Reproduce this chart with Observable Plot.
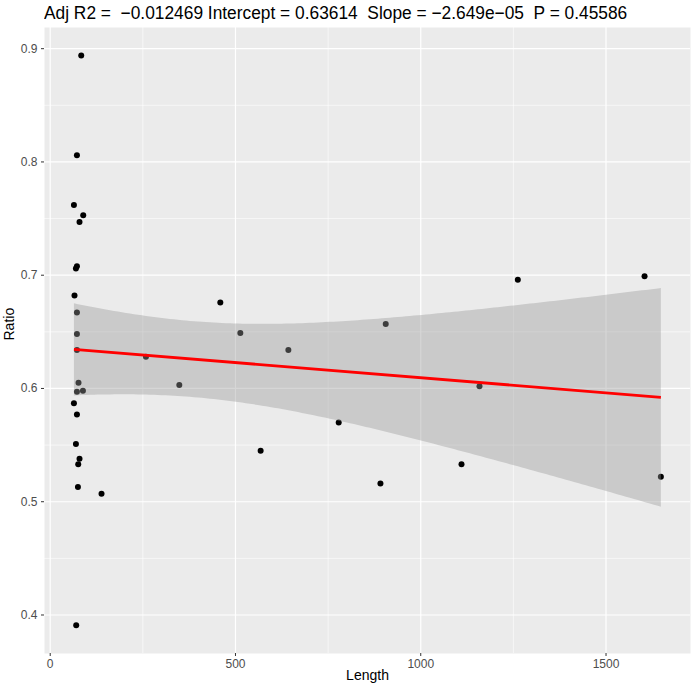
<!DOCTYPE html>
<html>
<head>
<meta charset="utf-8">
<script src="https://cdn.jsdelivr.net/npm/d3@7"></script>
<script src="https://cdn.jsdelivr.net/npm/@observablehq/plot@0.6"></script>
<style>
  html, body { margin: 0; padding: 0; background: #ffffff; }
  #wrap { width: 692px; height: 692px; position: relative; font-family: "Liberation Sans", Arial, Helvetica, sans-serif; }
  #title { box-sizing: border-box; height: 24px; padding-top: 3px; padding-left: 44px; font-size: 18px; line-height: 21px; color: #000; white-space: pre; }
  #title span { display: inline-block; transform: scaleX(0.963); transform-origin: left center; }
  svg { display: block; }
</style>
</head>
<body>
<div id="wrap">
  <div id="title"><span>Adj R2 =  −0.012469 Intercept = 0.63614  Slope = −2.649e−05  P = 0.45586</span></div>
  <div id="chart"></div>
</div>
<script>
// Data
const lengths = [83.7, 72.1, 64, 89.1, 79.1, 72.1, 69.4, 65.6, 72.1, 72.1, 72.1, 76.4, 72.1, 88.3, 64, 72.1, 69.4, 79.1, 75.6, 74.8, 138.5, 70.2,
                 258.4, 348.4, 459.1, 513.1, 567.9, 642.7, 778.6, 891.2, 905.5, 1110, 1158.5, 1262, 1604, 1648];
const ratios  = [0.894, 0.806, 0.762, 0.753, 0.747, 0.708, 0.706, 0.682, 0.667, 0.648, 0.634, 0.605, 0.597, 0.598, 0.587, 0.577, 0.551, 0.538, 0.533, 0.513, 0.507, 0.391,
                 0.628, 0.603, 0.676, 0.649, 0.545, 0.634, 0.570, 0.516, 0.657, 0.533, 0.602, 0.696, 0.699, 0.522];

const xTicks = [0, 500, 1000, 1500];
const xMinor = [250, 750, 1250];
const yTicks = [0.4, 0.5, 0.6, 0.7, 0.8, 0.9];
const yMinor = [0.45, 0.55, 0.65, 0.75, 0.85];
const xTitle = "Length";
const yTitle = "Ratio";

const data = lengths.map((l, i) => ({Length: l, Ratio: ratios[i]}));

const chart = Plot.plot({
  width: 692,
  height: 668,
  marginTop: 3,
  marginBottom: 39,
  marginLeft: 44,
  marginRight: 2,
  style: {fontFamily: "'Liberation Sans', Arial, Helvetica, sans-serif", background: "white"},
  x: {domain: [-15.4, 1728]},
  y: {domain: [0.366, 0.9187]},
  marks: [
    Plot.frame({fill: "#EBEBEB", stroke: null}),
    Plot.ruleX(xMinor, {stroke: "white", strokeWidth: 0.6}),
    Plot.ruleY(yMinor, {stroke: "white", strokeWidth: 0.6}),
    Plot.ruleX(xTicks, {stroke: "white", strokeWidth: 1.2}),
    Plot.ruleY(yTicks, {stroke: "white", strokeWidth: 1.2}),
    Plot.dot(data, {x: "Length", y: "Ratio", r: 3, fill: "black", stroke: null}),
    Plot.linearRegressionY(data, {x: "Length", y: "Ratio", stroke: "#FF0000", strokeWidth: 2.8, strokeLinecap: "butt", fill: "#999999", fillOpacity: 0.4, ci: 0.95}),
    Plot.axisX({ticks: xTicks, tickSize: 3, tickPadding: 3, fontSize: 12, fill: "#4D4D4D", stroke: "#333333", label: null, tickFormat: d => String(d)}),
    Plot.axisY({ticks: yTicks, tickSize: 3, tickPadding: 4, fontSize: 12, fill: "#4D4D4D", stroke: "#333333", label: null, tickFormat: d3.format(".1f")}),
    Plot.text([xTitle], {frameAnchor: "bottom", dy: 26, fontSize: 14, fill: "black", text: d => d}),
    Plot.text([yTitle], {frameAnchor: "left", dx: -35, rotate: -90, fontSize: 14, fill: "black", text: d => d})
  ]
});
document.getElementById("chart").appendChild(chart);
</script>
</body>
</html>
